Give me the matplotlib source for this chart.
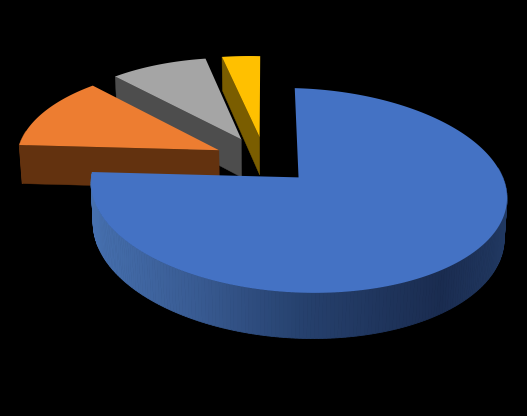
#!/usr/bin/env python3

# Exploded 3D pie on black, drawn by hand since matplotlib has no 3D pie.

import matplotlib.pyplot as plt
import numpy as np

labels = ["A", "B", "C", "D"]
values = [75.0, 12.5, 9.0, 3.5]

top_colors = ["#4472c4", "#ed7d31", "#a5a5a5", "#ffc000"]
wall_colors = ["#2f5288", "#63320f", "#4d4d4d", "#7a5d00"]
explode = [0.23, 0.25, 0.25, 0.25]

# projection settings, in pixels of the output image
CX, CY = 265, 160.5
RADIUS = 202
DEPTH = 96.5
PERSP = 0.125
THICK = 39
ROLL = -0.026
TAPER = 0.012

# shading of the blue outer wall, by screen x
shade_x = [92, 200, 300, 440, 508]
shade_r = [70, 56, 38, 26, 33]
shade_g = [112, 90, 65, 44, 57]
shade_b = [175, 145, 110, 80, 98]


def project(x, y, z=0.0):
    x, y, z = np.asarray(x, float), np.asarray(y, float), np.asarray(z, float)
    s = 1 / (1 - PERSP * y)
    sx = CX + RADIUS * x * s * (1 + TAPER * z)
    sy = CY + DEPTH * y * s - THICK * z * s
    return sx, sy + ROLL * (CX - sx)


def rim(a, off):
    return off[0] + np.sin(a), off[1] - np.cos(a)


def draw_slice(ax, a0, a1, exp, top, wall, shaded):
    mid = (a0 + a1) / 2
    off = (exp * np.sin(mid), -exp * np.cos(mid))

    # cut wall on the start edge, only when it faces the viewer
    if -np.sin(a0) > 0.01:
        rx, ry = rim(a0, off)
        xs = np.array([off[0], rx, rx, off[0]])
        ys = np.array([off[1], ry, ry, off[1]])
        zs = np.array([0, 0, -1, -1])
        px, py = project(xs, ys, zs)
        ax.fill(px, py, color=wall, lw=0.3, zorder=2)

    # outer wall, in strips so it can be shaded; the far side stays hidden
    angles = np.linspace(a0, a1, max(int((a1 - a0) * 60), 2) + 1)
    for b0, b1 in zip(angles[:-1], angles[1:]):
        if np.cos((b0 + b1) / 2) > 0.15:
            continue
        x0, y0 = rim(b0, off)
        x1, y1 = rim(b1, off)
        px, py = project([x0, x1, x1, x0], [y0, y1, y1, y0], [0, 0, -1, -1])
        color = wall
        if shaded:
            m = px.mean()
            color = (
                np.interp(m, shade_x, shade_r) / 255,
                np.interp(m, shade_x, shade_g) / 255,
                np.interp(m, shade_x, shade_b) / 255,
            )
        ax.fill(px, py, color=color, lw=0.6, zorder=2)

    # top face
    arc = np.linspace(a0, a1, 200)
    rx, ry = rim(arc, off)
    px, py = project(np.r_[off[0], rx], np.r_[off[1], ry])
    ax.fill(px, py, color=top, lw=0, zorder=3)


def main():
    fig = plt.figure(figsize=(5.27, 4.16), dpi=100, facecolor="black")
    ax = fig.add_axes([0, 0, 1, 1])
    ax.set_xlim(0, 527)
    ax.set_ylim(416, 0)
    ax.axis("off")

    edges = 2 * np.pi * np.r_[0, np.cumsum(values)] / np.sum(values)

    # back to front, so the nearer slices cover the others
    for i in [3, 2, 1, 0]:
        draw_slice(
            ax,
            edges[i],
            edges[i + 1],
            explode[i],
            top_colors[i],
            wall_colors[i],
            shaded=(i == 0),
        )

    fig.savefig("out.png", dpi=100, facecolor="black")
    plt.close(fig)


if __name__ == "__main__":
    main()
